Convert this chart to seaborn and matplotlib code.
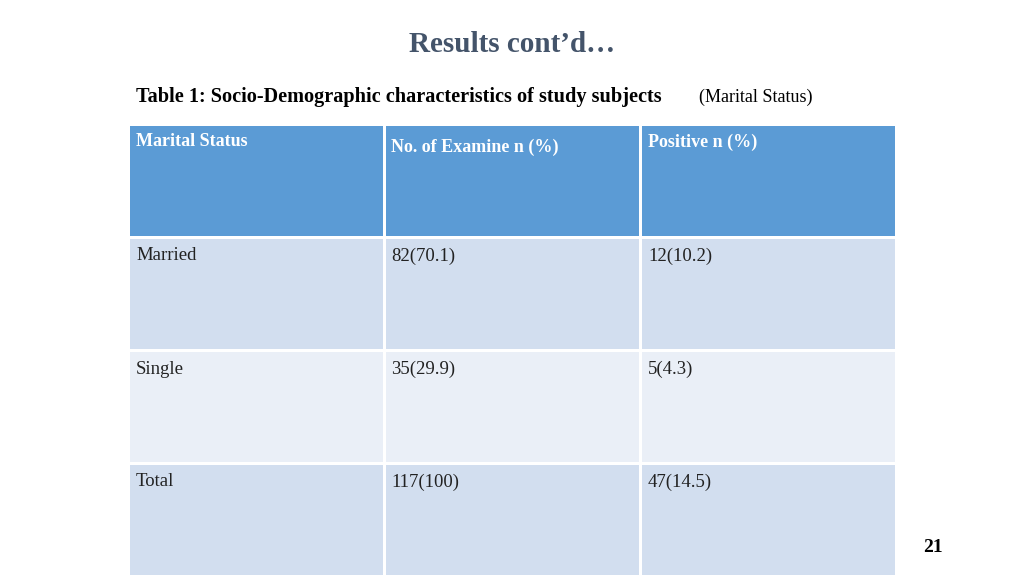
import numpy as np
import matplotlib
matplotlib.use("Agg")
import matplotlib.pyplot as plt
from matplotlib.colors import ListedColormap
import seaborn as sns

# table content
headers = ["Marital Status", "No. of Examine n (%)", "Positive n (%)"]
status = ["Married", "Single", "Total"]
examined = ["82(70.1)", "35(29.9)", "117(100)"]
positive = ["12(10.2)", "5(4.3)", "47(14.5)"]

W, H = 1024, 576
fig = plt.figure(figsize=(W / 100, H / 100), dpi=100)
plt.rcParams["font.family"] = "Liberation Serif"

# cell colour codes: 0 header, 1 dark band, 2 light band
codes = np.array([[0, 0, 0], [1, 1, 1], [2, 2, 2], [1, 1, 1]])
cmap = ListedColormap(["#5B9BD5", "#D2DEEF", "#EAEFF7"])

ax = fig.add_axes([128 / W, 0, 768 / W, (576 - 124) / H])
sns.heatmap(codes, cmap=cmap, vmin=-0.5, vmax=2.5, cbar=False, ax=ax,
            linewidths=2, linecolor="white", xticklabels=False, yticklabels=False)

def px(x, y, s, **kw):
    fig.text(x / W, 1 - y / H, s, va="center", **kw)

px(512, 45, "Results cont\u2019d\u2026", ha="center", fontsize=21, weight="bold", color="#44546A")
px(136, 97, "Table 1: Socio-Demographic characteristics of study subjects",
   fontsize=14.6, weight="bold")
px(699, 97, "(Marital Status)", fontsize=13)

col_x = [136, 391, 648]
head_y = [142, 147, 142]
for x, y, s in zip(col_x, head_y, headers):
    px(x, y, s, fontsize=13, weight="bold", color="white")

row_y = [256, 369, 482]
for y, a, b, c in zip(row_y, status, examined, positive):
    for x, s in zip(col_x, [a, b, c]):
        px(x, y, s, fontsize=13.5, color="#222222")

px(933, 548, "21", ha="center", fontsize=14, weight="bold")

fig.savefig("out.png", dpi=100)
